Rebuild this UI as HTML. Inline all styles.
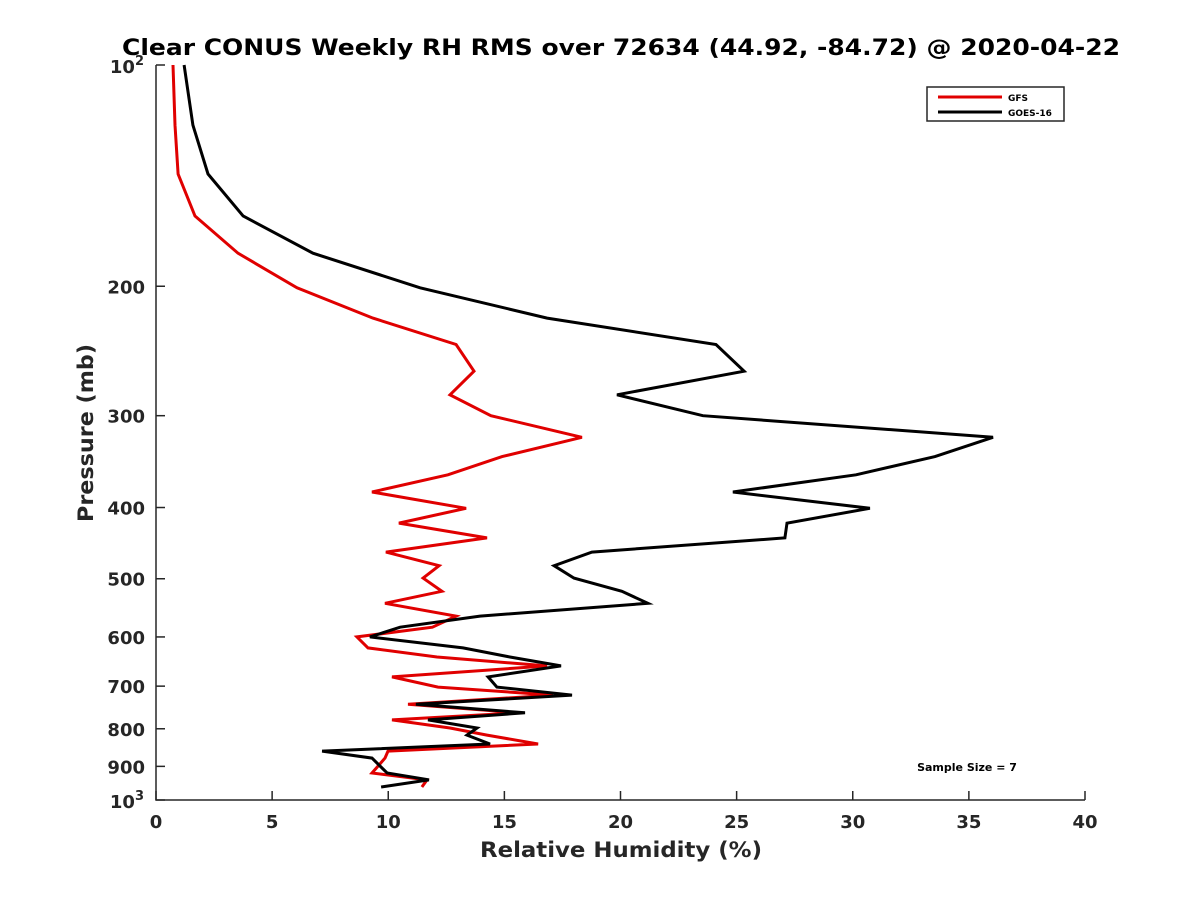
<!DOCTYPE html>
<html><head><meta charset="utf-8"><style>
body{margin:0;background:#fff;}
svg{display:block;font-family:"DejaVu Sans","Liberation Sans",sans-serif;font-weight:bold;}
</style></head><body>
<svg id="chart" width="1200" height="900">
<rect width="1200" height="900" fill="#fff"/>
<text x="621" y="55" text-anchor="middle" font-size="22" textLength="998" lengthAdjust="spacingAndGlyphs" fill="#000">Clear CONUS Weekly RH RMS over 72634 (44.92, -84.72) @ 2020-04-22</text>
<g id="axes"></g>
<g id="series"></g>
<g>
<rect x="927" y="87" width="137" height="34" fill="#fff" stroke="#262626" stroke-width="1.5"/>
<line x1="938" y1="97" x2="1002" y2="97" stroke="#e00000" stroke-width="3"/>
<text x="1008" y="101" font-size="9" fill="#000">GFS</text>
<line x1="938" y1="112" x2="1002" y2="112" stroke="#000" stroke-width="3"/>
<text x="1008" y="116" font-size="9" fill="#000">GOES-16</text>
</g>
<text x="967" y="771" text-anchor="middle" font-size="11" fill="#000">Sample Size = 7</text>
<text x="621" y="857" text-anchor="middle" font-size="21" textLength="282" lengthAdjust="spacingAndGlyphs" fill="#262626">Relative Humidity (%)</text>
<text transform="translate(93,433) rotate(-90)" text-anchor="middle" font-size="21" textLength="178" lengthAdjust="spacingAndGlyphs" fill="#262626">Pressure (mb)</text>
</svg>
<script>
const pressure=[100,120.7,140.7,160.5,180.3,201,221,240,261,281,300,321,341,361,381,401,420,440,460,480,499,520,540,562,582,600,621,639,657,680,702,720,741,761,778,798,816,839,858,877,919,939,960];
const gfsRH=[0.73,0.82,0.95,1.68,3.53,6.07,9.34,12.92,13.69,12.66,14.42,18.34,14.9,12.57,9.3,13.35,10.46,14.25,9.9,12.19,11.5,12.31,9.86,12.92,11.9,8.65,9.13,12.1,16.84,10.16,12.14,17.09,10.85,15.67,10.16,12.66,14.25,16.45,9.99,9.86,9.3,11.67,11.45];
const goesRH=[1.21,1.59,2.24,3.75,6.76,11.37,16.84,24.11,25.32,19.85,23.55,36.04,33.54,30.14,24.84,30.74,27.17,27.08,18.77,17.14,18.0,20.06,21.18,13.95,10.51,9.21,13.22,15.24,17.44,14.3,14.68,17.91,11.19,15.89,11.71,13.82,13.39,14.38,7.15,9.3,9.95,11.75,9.69];
const xTicks=[0,5,10,15,20,25,30,35,40];
const yTicks=[200,300,400,500,600,700,800,900];
const NS="http://www.w3.org/2000/svg";
const L=156,R=1085,T=65,B=800;
function xs(v){return L+(v-0)/40*(R-L);}
function ys(p){return T+(Math.log10(p)-2)*(B-T);}
function mk(tag,attrs,parent){const e=document.createElementNS(NS,tag);for(const k in attrs)e.setAttribute(k,attrs[k]);parent.appendChild(e);return e;}
const ax=document.getElementById('axes');
let a=mk('path',{d:`M${L},${T}V${B}H${R}`,fill:'none',stroke:'#262626','stroke-width':1.5},ax);


xTicks.forEach(v=>{
 const t=mk('line',{x1:xs(v),x2:xs(v),y1:B,y2:B-9,stroke:'#262626','stroke-width':1.5},ax);
 
 
 const tx=mk('text',{x:xs(v),y:B+28,'text-anchor':'middle','font-size':18,fill:'#262626'},ax);
 tx.textContent=v;
 
 
});
[100].concat(yTicks,[1000]).forEach(p=>{
 const t=mk('line',{x1:L,x2:L+9,y1:ys(p),y2:ys(p),stroke:'#262626','stroke-width':1.5},ax);
 
 
});
yTicks.forEach(p=>{
 const tx=mk('text',{x:L-11,y:ys(p)+7,'text-anchor':'end','font-size':18,fill:'#262626'},ax);
 tx.textContent=p;
 
 
});
[[100,'2'],[1000,'3']].forEach(([p,e])=>{
 const tx=mk('text',{x:L-12,y:ys(p)+8,'text-anchor':'end','font-size':18,fill:'#262626'},ax);
 tx.innerHTML='10<tspan dy="-8" font-size="13">'+e+'</tspan>';
 
 
});
const sg=document.getElementById('series');
function line(vals,color,name){
 const d=vals.map((v,i)=>(i?'L':'M')+xs(v).toFixed(1)+','+ys(pressure[i]).toFixed(1)).join('');
 const p=mk('path',{d:d,fill:'none',stroke:color,'stroke-width':3,'stroke-linejoin':'miter'},sg);
 
 
}
line(gfsRH,'#e00000','gfs-line');
line(goesRH,'#000','goes16-line');
</script>
</body></html>
